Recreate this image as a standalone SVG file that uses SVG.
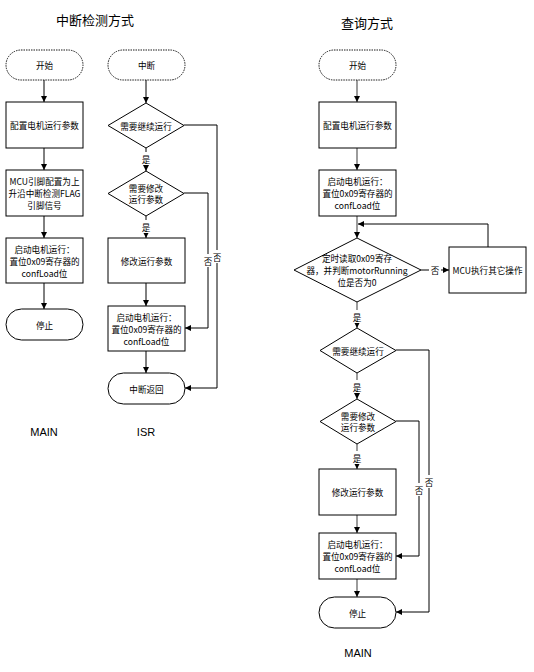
<svg xmlns="http://www.w3.org/2000/svg" width="534" height="672" viewBox="0 0 534 672">
<style>
.t{font-family:"Noto Sans CJK SC","Liberation Sans",sans-serif;font-size:8.6px;fill:#000;text-anchor:middle;dominant-baseline:central}
.ti{font-family:"Noto Sans CJK SC","Liberation Sans",sans-serif;font-size:13px;fill:#000;text-anchor:middle;dominant-baseline:central}
.lb{font-family:"Liberation Sans","Noto Sans",sans-serif;font-size:11px;fill:#000;text-anchor:middle;dominant-baseline:central}
.n{fill:#fff;stroke:#000;stroke-width:1}
.d{fill:#fff;stroke:#000;stroke-width:0.9;stroke-dasharray:1.5 1}
.c{fill:none;stroke:#000;stroke-width:1}
.g{fill:none;stroke:#666;stroke-width:1.3}
.yn{font-family:"Noto Sans CJK SC",sans-serif;font-size:8.6px;fill:#000;text-anchor:middle;dominant-baseline:central}
</style>
<defs>
<marker id="a" viewBox="0 0 6 6" refX="6" refY="3" markerWidth="6" markerHeight="6" markerUnits="userSpaceOnUse" orient="auto"><path d="M0,0L6,3L0,6z" fill="#000"/></marker>
</defs>
<rect width="534" height="672" fill="#fff"/>
<text class="ti" x="95" y="19">中断检测方式</text>
<text class="ti" x="367" y="22">查询方式</text>
<text class="lb" x="44" y="432">MAIN</text>
<text class="lb" x="146" y="432">ISR</text>
<text class="lb" x="358" y="653">MAIN</text>

<g id="connectors">
<line class="c" x1="44" y1="80" x2="44" y2="102" marker-end="url(#a)"/>
<line class="c" x1="44" y1="148" x2="44" y2="170" marker-end="url(#a)"/>
<line class="c" x1="44" y1="216" x2="44" y2="238" marker-end="url(#a)"/>
<line class="c" x1="44" y1="283" x2="44" y2="309" marker-end="url(#a)"/>

<line class="c" x1="146" y1="80" x2="146" y2="103" marker-end="url(#a)"/>
<line class="c" x1="146" y1="148" x2="146" y2="171" marker-end="url(#a)"/>
<line class="c" x1="146" y1="216" x2="146" y2="238" marker-end="url(#a)"/>
<line class="c" x1="146" y1="283" x2="146" y2="306" marker-end="url(#a)"/>
<line class="c" x1="146" y1="351" x2="146" y2="373" marker-end="url(#a)"/>
<polyline class="c" points="184,125 217,125 217,388 185,388" marker-end="url(#a)"/>
<polyline class="c" points="184,193 208,193 208,328 185,328" marker-end="url(#a)"/>

<line class="g" x1="357" y1="80" x2="357" y2="102" marker-end="url(#a)"/>
<line class="g" x1="357" y1="148" x2="357" y2="170" marker-end="url(#a)"/>
<line class="g" x1="357" y1="216" x2="357" y2="238" marker-end="url(#a)"/>
<line class="g" x1="357" y1="302" x2="357" y2="328" marker-end="url(#a)"/>
<line class="g" x1="357" y1="373" x2="357" y2="399" marker-end="url(#a)"/>
<line class="g" x1="357" y1="444" x2="357" y2="469" marker-end="url(#a)"/>
<line class="g" x1="357" y1="515" x2="357" y2="533" marker-end="url(#a)"/>
<line class="g" x1="357" y1="579" x2="357" y2="597" marker-end="url(#a)"/>
<line class="c" x1="421" y1="270" x2="449" y2="270" marker-end="url(#a)"/>
<polyline class="c" points="488,247 488,224 358,224" marker-end="url(#a)"/>
<polyline class="c" points="396,350 429,350 429,612 396,612" marker-end="url(#a)"/>
<polyline class="c" points="396,421 419,421 419,556 396,556" marker-end="url(#a)"/>

<rect x="139" y="152" width="14" height="13" fill="#fff"/><text class="yn" x="146" y="159">是</text>
<rect x="139" y="220" width="14" height="13" fill="#fff"/><text class="yn" x="146" y="227">是</text>
<rect x="211" y="250" width="12" height="13" fill="#fff"/><text class="yn" x="217" y="257">否</text>
<rect x="202" y="254" width="12" height="13" fill="#fff"/><text class="yn" x="208" y="261">否</text>
<rect x="350" y="310" width="14" height="13" fill="#fff"/><text class="yn" x="357" y="317">是</text>
<rect x="350" y="380" width="14" height="13" fill="#fff"/><text class="yn" x="357" y="387">是</text>
<rect x="350" y="451" width="14" height="13" fill="#fff"/><text class="yn" x="357" y="458">是</text>
<rect x="429" y="263" width="12" height="13" fill="#fff"/><text class="yn" x="435" y="270">否</text>
<rect x="423" y="475" width="12" height="13" fill="#fff"/><text class="yn" x="429" y="482">否</text>
<rect x="413" y="483" width="12" height="13" fill="#fff"/><text class="yn" x="419" y="490">否</text>
</g>

<g id="m_start"><rect class="d" x="6" y="50" width="77" height="30" rx="15"/><text class="t" x="44.5" y="65">开始</text></g>
<g id="m_cfg"><rect class="n" x="6" y="102" width="77" height="46"/><text class="t" x="44.5" y="125">配置电机运行参数</text></g>
<g id="m_mcu"><rect class="n" x="6" y="170" width="77" height="46"/><text class="t" x="44.5" y="181">MCU引脚配置为上</text><text class="t" x="44.5" y="193">升沿中断检测FLAG</text><text class="t" x="44.5" y="205">引脚信号</text></g>
<g id="m_run"><rect class="n" x="6" y="238" width="77" height="45"/><text class="t" x="44.5" y="249">启动电机运行：</text><text class="t" x="44.5" y="261">置位0x09寄存器的</text><text class="t" x="44.5" y="273">confLoad位</text></g>
<g id="m_stop"><rect class="n" x="6" y="309" width="77" height="31" rx="15.5"/><text class="t" x="44.5" y="324.5">停止</text></g>

<g id="i_start"><rect class="d" x="108" y="50" width="77" height="30" rx="15"/><text class="t" x="146.5" y="65">中断</text></g>
<g id="i_d1"><polygon class="n" points="146,103 184,125.5 146,148 108,125.5"/><text class="t" x="146" y="125.5">需要继续运行</text></g>
<g id="i_d2"><polygon class="n" points="146,171 184,193.5 146,216 108,193.5"/><text class="t" x="146" y="188">需要修改</text><text class="t" x="146" y="199">运行参数</text></g>
<g id="i_mod"><rect class="n" x="108" y="238" width="77" height="45"/><text class="t" x="146.5" y="260.5">修改运行参数</text></g>
<g id="i_run"><rect class="n" x="108" y="306" width="77" height="45"/><text class="t" x="146.5" y="317">启动电机运行：</text><text class="t" x="146.5" y="329">置位0x09寄存器的</text><text class="t" x="146.5" y="341">confLoad位</text></g>
<g id="i_ret"><rect class="n" x="108" y="373" width="77" height="31" rx="15.5"/><text class="t" x="146.5" y="388.5">中断返回</text></g>

<g id="q_start"><rect class="d" x="319" y="50" width="77" height="30" rx="15"/><text class="t" x="357.5" y="65">开始</text></g>
<g id="q_cfg"><rect class="n" x="319" y="102" width="77" height="46"/><text class="t" x="357.5" y="125">配置电机运行参数</text></g>
<g id="q_run1"><rect class="n" x="319" y="170" width="77" height="46"/><text class="t" x="357.5" y="181">启动电机运行：</text><text class="t" x="357.5" y="193">置位0x09寄存器的</text><text class="t" x="357.5" y="205">confLoad位</text></g>
<g id="q_read"><polygon class="n" points="357,238 421,270 357,302 294,270"/><text class="t" x="357" y="258">定时读取0x09寄存</text><text class="t" x="357" y="270">器，并判断motorRunning</text><text class="t" x="357" y="282">位是否为0</text></g>
<g id="q_other"><rect class="n" x="449" y="247" width="77" height="46"/><text class="t" x="487.5" y="270">MCU执行其它操作</text></g>
<g id="q_d1"><polygon class="n" points="357,328 396,350.5 357,373 320,350.5"/><text class="t" x="358" y="350.5">需要继续运行</text></g>
<g id="q_d2"><polygon class="n" points="357,399 396,421.5 357,444 320,421.5"/><text class="t" x="358" y="416">需要修改</text><text class="t" x="358" y="427">运行参数</text></g>
<g id="q_mod"><rect class="n" x="319" y="469" width="77" height="46"/><text class="t" x="357.5" y="492">修改运行参数</text></g>
<g id="q_run2"><rect class="n" x="319" y="533" width="77" height="46"/><text class="t" x="357.5" y="544">启动电机运行：</text><text class="t" x="357.5" y="556">置位0x09寄存器的</text><text class="t" x="357.5" y="568">confLoad位</text></g>
<g id="q_stop"><rect class="n" x="319" y="597" width="77" height="31" rx="15.5"/><text class="t" x="357.5" y="612.5">停止</text></g>
</svg>
